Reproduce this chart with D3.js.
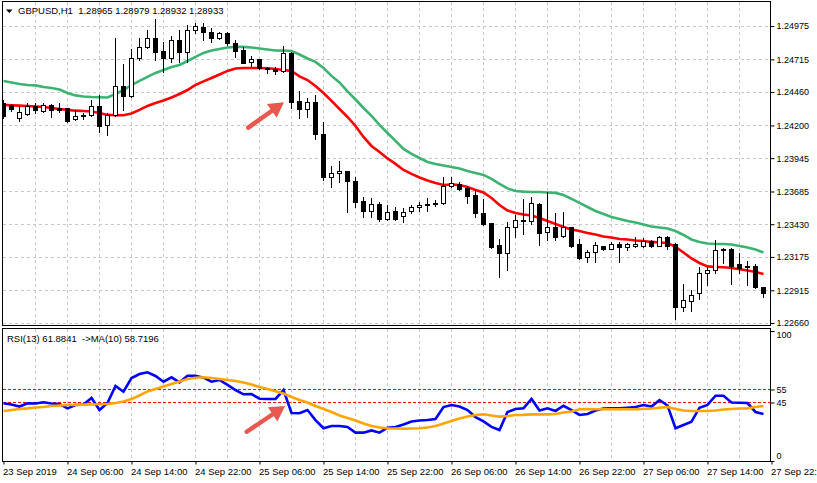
<!DOCTYPE html>
<html>
<head>
<meta charset="utf-8">
<script src="https://cdn.jsdelivr.net/npm/d3@7"></script>
<style>
body{margin:0;background:#fff;}
svg text{font-family:"Liberation Sans",Arial,sans-serif;fill:#000;}
</style>
</head>
<body>
<div class="chart-container"></div>
<script>
// GBPUSD H1 candles (bar 0 = 23 Sep 22:00)
const open_prices = [1.24375,1.24360,1.24256,1.24292,1.24354,1.24315,1.24360,1.24334,1.24334,1.24248,
  1.24282,1.24282,1.24354,1.24201,1.24282,1.24510,1.24432,1.24724,1.24814,1.24884,
  1.24780,1.24728,1.24866,1.24770,1.24944,1.24965,1.24931,1.24879,1.24918,1.24843,
  1.24788,1.24697,1.24716,1.24646,1.24638,1.24627,1.24767,1.24391,1.24326,1.24385,
  1.24133,1.23796,1.23827,1.23844,1.23769,1.23611,1.23536,1.23588,1.23469,1.23536,
  1.23494,1.23531,1.23567,1.23579,1.23584,1.23593,1.23726,1.23744,1.23709,1.23658,
  1.23518,1.23440,1.23268,1.23204,1.23412,1.23463,1.23455,1.23590,1.23366,1.23409,
  1.23338,1.23409,1.23274,1.23177,1.23210,1.23258,1.23239,1.23276,1.23253,1.23264,
  1.23264,1.23299,1.23264,1.23331,1.23276,1.22781,1.22834,1.22892,1.23048,1.23073,
  1.23229,1.23239,1.23118,1.23106,1.23106,1.22942];
const high_prices = [1.24399,1.24365,1.24354,1.24373,1.24373,1.24373,1.24365,1.24377,1.24338,1.24321,
  1.24300,1.24399,1.24437,1.24300,1.24879,1.24677,1.24794,1.24884,1.24944,1.25030,
  1.24853,1.24900,1.24944,1.24983,1.24996,1.24996,1.24957,1.24931,1.24926,1.24866,
  1.24814,1.24745,1.24718,1.24658,1.24653,1.24822,1.24775,1.24471,1.24412,1.24437,
  1.24229,1.23880,1.23919,1.23845,1.23801,1.23645,1.23631,1.23603,1.23580,1.23562,
  1.23554,1.23580,1.23606,1.23632,1.23619,1.23798,1.23796,1.23759,1.23728,1.23697,
  1.23627,1.23443,1.23317,1.23450,1.23502,1.23627,1.23642,1.23592,1.23681,1.23518,
  1.23525,1.23411,1.23313,1.23229,1.23292,1.23264,1.23288,1.23288,1.23281,1.23328,
  1.23319,1.23307,1.23342,1.23338,1.23280,1.22963,1.22917,1.23099,1.23099,1.23307,
  1.23242,1.23241,1.23202,1.23143,1.23116,1.22943];
const low_prices = [1.24258,1.24315,1.24235,1.24282,1.24300,1.24307,1.24268,1.24307,1.24229,1.24243,
  1.24250,1.24276,1.24147,1.24126,1.24276,1.24321,1.24424,1.24710,1.24801,1.24710,
  1.24614,1.24697,1.24697,1.24697,1.24918,1.24866,1.24853,1.24874,1.24827,1.24734,
  1.24685,1.24663,1.24640,1.24607,1.24601,1.24619,1.24334,1.24256,1.24268,1.24092,
  1.23771,1.23718,1.23762,1.23528,1.23562,1.23487,1.23483,1.23455,1.23463,1.23463,
  1.23450,1.23515,1.23536,1.23533,1.23572,1.23588,1.23718,1.23697,1.23593,1.23484,
  1.23424,1.23241,1.23016,1.23073,1.23328,1.23350,1.23432,1.23268,1.23307,1.23307,
  1.23331,1.23255,1.23159,1.23138,1.23138,1.23227,1.23233,1.23132,1.23229,1.23255,
  1.23256,1.23256,1.23258,1.23237,1.22694,1.22754,1.22754,1.22847,1.22956,1.23048,
  1.23126,1.22964,1.23046,1.22956,1.22933,1.22865];
const close_prices = [1.24274,1.24326,1.24303,1.24352,1.24321,1.24360,1.24321,1.24323,1.24235,1.24274,
  1.24276,1.24354,1.24196,1.24282,1.24510,1.24432,1.24724,1.24814,1.24879,1.24775,
  1.24728,1.24866,1.24770,1.24944,1.24973,1.24931,1.24879,1.24918,1.24840,1.24783,
  1.24689,1.24716,1.24646,1.24636,1.24628,1.24763,1.24385,1.24326,1.24385,1.24130,
  1.23801,1.23827,1.23843,1.23769,1.23606,1.23536,1.23588,1.23467,1.23528,1.23469,
  1.23528,1.23567,1.23579,1.23587,1.23592,1.23724,1.23749,1.23706,1.23648,1.23515,
  1.23432,1.23255,1.23204,1.23412,1.23463,1.23453,1.23592,1.23359,1.23409,1.23333,
  1.23409,1.23260,1.23167,1.23210,1.23268,1.23237,1.23274,1.23256,1.23274,1.23272,
  1.23303,1.23264,1.23334,1.23263,1.22781,1.22836,1.22878,1.23048,1.23073,1.23229,
  1.23237,1.23105,1.23089,1.23097,1.22937,1.22894];

// the two moving averages on the price panel
const ma_green = [1.24547,1.24535,1.24523,1.24515,1.24512,1.24500,1.24492,1.24480,1.24453,1.24434,
  1.24426,1.24422,1.24420,1.24418,1.24445,1.24476,1.24515,1.24547,1.24578,1.24609,
  1.24632,1.24656,1.24671,1.24702,1.24734,1.24765,1.24784,1.24796,1.24808,1.24812,
  1.24812,1.24808,1.24800,1.24792,1.24784,1.24783,1.24780,1.24753,1.24722,1.24695,
  1.24648,1.24586,1.24535,1.24465,1.24402,1.24336,1.24274,1.24204,1.24141,1.24079,
  1.24017,1.23978,1.23946,1.23915,1.23900,1.23888,1.23876,1.23865,1.23845,1.23830,
  1.23814,1.23783,1.23744,1.23709,1.23689,1.23684,1.23681,1.23681,1.23677,1.23674,
  1.23658,1.23627,1.23596,1.23564,1.23533,1.23510,1.23487,1.23471,1.23455,1.23444,
  1.23428,1.23412,1.23405,1.23397,1.23377,1.23346,1.23311,1.23292,1.23280,1.23276,
  1.23276,1.23272,1.23260,1.23249,1.23233,1.23210];
const ma_red = [1.24360,1.24357,1.24354,1.24352,1.24348,1.24344,1.24336,1.24328,1.24321,1.24315,
  1.24313,1.24309,1.24297,1.24282,1.24279,1.24279,1.24293,1.24321,1.24352,1.24375,
  1.24395,1.24418,1.24445,1.24476,1.24515,1.24543,1.24570,1.24597,1.24625,1.24644,
  1.24648,1.24648,1.24648,1.24646,1.24640,1.24632,1.24625,1.24582,1.24554,1.24508,
  1.24453,1.24391,1.24328,1.24266,1.24196,1.24110,1.24040,1.23993,1.23943,1.23900,
  1.23853,1.23822,1.23794,1.23771,1.23752,1.23736,1.23740,1.23736,1.23720,1.23697,
  1.23677,1.23635,1.23580,1.23537,1.23518,1.23506,1.23498,1.23479,1.23455,1.23432,
  1.23409,1.23389,1.23377,1.23362,1.23350,1.23334,1.23327,1.23315,1.23311,1.23303,
  1.23299,1.23292,1.23288,1.23284,1.23253,1.23210,1.23163,1.23128,1.23101,1.23097,
  1.23094,1.23089,1.23079,1.23069,1.23058,1.23042];

// RSI(13) and its MA(10)
const rsi_values = [44.4,43.5,41.9,44.4,44.2,45.2,44.2,43.8,40.5,43.1,
  43.5,48.5,39.2,44.6,57.7,53.3,63.8,66.9,68.2,65.4,
  61.0,64.4,60.5,65.6,65.6,64.1,61.0,62.3,58.5,54.6,
  51.3,51.5,47.9,47.7,47.7,54.6,36.9,36.7,39.2,31.5,
  25.2,26.9,26.9,26.2,21.8,21.8,23.5,21.8,25.6,26.2,
  28.1,30.4,31.2,31.5,32.3,41.5,43.1,41.9,39.2,33.8,
  30.4,26.2,23.8,37.7,40.0,40.5,47.7,38.8,40.5,38.5,
  42.5,39.2,35.4,36.2,38.8,40.4,40.5,40.5,41.0,41.5,
  43.1,41.9,46.9,42.7,25.2,27.7,30.2,41.0,43.1,50.2,
  50.2,45.0,44.8,44.6,37.7,36.2];
const rsi_ma_values = [38.5,39.2,40.0,40.5,41.2,41.5,42.3,42.7,43.1,43.2,
  43.4,43.5,43.6,43.8,44.6,45.8,47.7,50.4,53.5,55.4,
  57.3,59.2,61.2,63.1,64.1,64.4,63.8,63.1,62.3,61.5,
  60.4,58.8,56.9,55.4,53.6,51.9,49.2,46.9,45.0,42.3,
  40.0,37.7,35.0,33.1,31.2,28.8,26.9,25.8,25.2,25.0,
  24.8,25.0,25.2,25.8,26.9,28.8,30.8,32.7,34.2,35.4,
  35.9,35.0,34.1,34.6,35.4,35.5,35.9,35.9,35.9,36.2,
  37.3,38.1,39.8,40.0,39.8,39.8,39.8,39.8,39.8,39.8,
  40.0,40.4,41.0,41.5,40.0,38.8,38.5,38.5,38.5,38.8,
  39.6,40.0,40.4,40.5,41.5,42.3];

// axes
const price_ticks = [1.24975,1.24715,1.24460,1.24200,1.23945,1.23685,1.23430,1.23175,1.22915,1.22660];
const rsi_ticks = [100,55,45,0];
const rsi_levels = [55,45];
const time_tick_bars = [0,8,16,24,32,40,48,56,64,72,80,88,96];
const time_labels = ['23 Sep 2019','24 Sep 06:00','24 Sep 14:00','24 Sep 22:00','25 Sep 06:00',
  '25 Sep 14:00','25 Sep 22:00','26 Sep 06:00','26 Sep 14:00','26 Sep 22:00',
  '27 Sep 06:00','27 Sep 14:00','27 Sep 22:00'];
const grid_bars = [4,8,12,16,20,24,28,32,36,40,44,48,52,56,60,64,68,72,76,80,84,88,92];

// annotation arrows [bar, value]
const price_arrow = [[30.6, 1.24183],[35.06, 1.24381]];
const rsi_arrow = [[30.4, 22.5],[35.2, 42.3]];

const chart_title = 'GBPUSD,H1  1.28965 1.28979 1.28932 1.28933';
const rsi_title = 'RSI(13) 61.8841  ->MA(10) 58.7196';

function draw_arrow(g, pts, x_scale, y_scale){
    const [x0, y0] = [x_scale(pts[0][0]), y_scale(pts[0][1])];
    const [x1, y1] = [x_scale(pts[1][0]), y_scale(pts[1][1])];
    const len = Math.hypot(x1 - x0, y1 - y0);
    const ux = (x1 - x0) / len, uy = (y1 - y0) / len;
    const head = 15, half = 8.5;
    const bx = x1 - ux * head, by = y1 - uy * head;
    g.append('line')
        .attr('x1', x0).attr('y1', y0).attr('x2', bx + ux * 2).attr('y2', by + uy * 2)
        .style('stroke', '#e8584f').style('stroke-width', 4.5).style('stroke-linecap', 'round');
    g.append('path')
        .attr('d', `M${x1},${y1}L${bx - uy * half},${by + ux * half}L${bx + uy * half},${by - ux * half}Z`)
        .style('fill', '#e8584f');
}

function setup_canvas(){
    const svg_width = 817, svg_height = 483;
    const frame = {left: 2.5, right: 770.5, top: 1.5, bottom: 325.5};
    const sub = {top: 328.5, bottom: 461.5};

    const svg = d3.select('.chart-container').append('svg')
        .attr('width', svg_width).attr('height', svg_height);

    const x_scale = d3.scaleLinear().domain([0, 96]).range([3.5, 771.5]);
    const y_price = d3.scaleLinear().domain([1.22660, 1.24975]).range([323, 26]);
    const y_rsi = d3.scaleLinear().domain([0, 100]).range([461, 331]);

    const defs = svg.append('defs');
    defs.append('clipPath').attr('id', 'clip-main').append('rect')
        .attr('x', 3).attr('y', 2).attr('width', 767.5).attr('height', 323);
    defs.append('clipPath').attr('id', 'clip-rsi').append('rect')
        .attr('x', 3).attr('y', 329).attr('width', 767.5).attr('height', 132);

    // grid
    const grid = svg.append('g').attr('class', 'grid')
        .style('stroke', '#c8c8c8').style('stroke-dasharray', '3,3').style('shape-rendering', 'crispEdges');
    grid.selectAll('.vgrid-main').data(grid_bars).enter().append('line')
        .attr('x1', d => x_scale(d)).attr('x2', d => x_scale(d))
        .attr('y1', frame.top).attr('y2', frame.bottom);
    grid.selectAll('.vgrid-rsi').data(grid_bars).enter().append('line')
        .attr('x1', d => x_scale(d)).attr('x2', d => x_scale(d))
        .attr('y1', sub.top).attr('y2', sub.bottom);
    grid.selectAll('.hgrid').data(price_ticks).enter().append('line')
        .attr('x1', frame.left).attr('x2', frame.right)
        .attr('y1', d => Math.round(y_price(d)) + 0.5).attr('y2', d => Math.round(y_price(d)) + 0.5);

    // moving averages
    const main_g = svg.append('g').attr('clip-path', 'url(#clip-main)');
    const line_price = d3.line().x((d, i) => x_scale(i)).y(d => y_price(d));
    main_g.append('path').attr('d', line_price(ma_green))
        .style('fill', 'none').style('stroke', '#3cb371').style('stroke-width', 2.6);
    main_g.append('path').attr('d', line_price(ma_red))
        .style('fill', 'none').style('stroke', '#ff0000').style('stroke-width', 2.6);

    // candles
    const candles = open_prices.map((o, i) => ({i, o, h: high_prices[i], l: low_prices[i], c: close_prices[i]}));
    const candle_g = main_g.append('g').style('shape-rendering', 'crispEdges');
    candle_g.selectAll('.wick').data(candles).enter().append('line')
        .attr('x1', d => x_scale(d.i)).attr('x2', d => x_scale(d.i))
        .attr('y1', d => Math.round(y_price(d.h))).attr('y2', d => Math.round(y_price(d.l)) + 1)
        .style('stroke', '#000').style('stroke-width', 1);
    candle_g.selectAll('.body').data(candles).enter().append('rect')
        .attr('x', d => x_scale(d.i) - 2)
        .attr('y', d => Math.round(y_price(Math.max(d.o, d.c))) + 0.5)
        .attr('width', 4)
        .attr('height', d => Math.max(1, Math.round(y_price(Math.min(d.o, d.c))) - Math.round(y_price(Math.max(d.o, d.c)))))
        .style('fill', d => d.c >= d.o ? '#fff' : '#000')
        .style('stroke', '#000').style('stroke-width', 1);

    draw_arrow(main_g, price_arrow, x_scale, y_price);

    // RSI panel
    const rsi_g = svg.append('g').attr('clip-path', 'url(#clip-rsi)');
    rsi_g.selectAll('.level').data(rsi_levels).enter().append('line')
        .attr('x1', frame.left).attr('x2', frame.right)
        .attr('y1', d => y_rsi(d)).attr('y2', d => y_rsi(d))
        .style('stroke', '#ff0000').style('stroke-dasharray', '3,2').style('shape-rendering', 'crispEdges');
    const line_rsi = d3.line().x((d, i) => x_scale(i)).y(d => y_rsi(d));
    rsi_g.append('path').attr('d', line_rsi(rsi_values))
        .style('fill', 'none').style('stroke', '#0000ff').style('stroke-width', 2.6);
    rsi_g.append('path').attr('d', line_rsi(rsi_ma_values))
        .style('fill', 'none').style('stroke', '#ffa500').style('stroke-width', 2.6);
    draw_arrow(rsi_g, rsi_arrow, x_scale, y_rsi);

    // frames
    const frames = svg.append('g').style('fill', 'none').style('stroke', '#000').style('shape-rendering', 'crispEdges');
    frames.append('rect').attr('x', frame.left).attr('y', frame.top)
        .attr('width', frame.right - frame.left).attr('height', frame.bottom - frame.top);
    frames.append('rect').attr('x', frame.left).attr('y', sub.top)
        .attr('width', frame.right - frame.left).attr('height', sub.bottom - sub.top);

    // price axis
    const y_axis = d3.axisRight(y_price).tickValues(price_ticks)
        .tickFormat(d3.format('.5f')).tickSize(4).tickPadding(2);
    const y_axis_g = svg.append('g').attr('transform', `translate(${frame.right},0)`).call(y_axis);
    y_axis_g.select('.domain').remove();
    y_axis_g.selectAll('text').style('font-size', '9px').style('font-family', '"Liberation Sans",Arial,sans-serif');

    // rsi axis
    const r_axis = d3.axisRight(y_rsi).tickValues(rsi_ticks).tickSize(4).tickPadding(2);
    const r_axis_g = svg.append('g').attr('transform', `translate(${frame.right},0)`).call(r_axis);
    r_axis_g.select('.domain').remove();
    r_axis_g.selectAll('text').style('font-size', '9px').style('font-family', '"Liberation Sans",Arial,sans-serif')
        .attr('y', d => d === 100 ? 4 : (d === 0 ? -5 : 0));

    // time axis
    const x_axis = d3.axisBottom(x_scale).tickValues(time_tick_bars)
        .tickFormat((d, i) => time_labels[i]).tickSize(3).tickPadding(4);
    const x_axis_g = svg.append('g').attr('transform', `translate(0,${sub.bottom})`).call(x_axis);
    x_axis_g.select('.domain').remove();
    x_axis_g.selectAll('text').style('text-anchor', 'start').attr('x', -1)
        .style('font-size', '9.5px').style('font-family', '"Liberation Sans",Arial,sans-serif');

    // headers
    svg.append('path').attr('d', 'M6,9.5L12.5,9.5L9.25,13Z').style('fill', '#000');
    svg.append('text').attr('x', 18).attr('y', 14).style('font-size', '9.5px')
        .style('white-space', 'pre').text(chart_title);
    svg.append('text').attr('x', 7).attr('y', 341.5).style('font-size', '9.5px')
        .style('white-space', 'pre').text(rsi_title);
}

setup_canvas();
</script>
</body>
</html>
